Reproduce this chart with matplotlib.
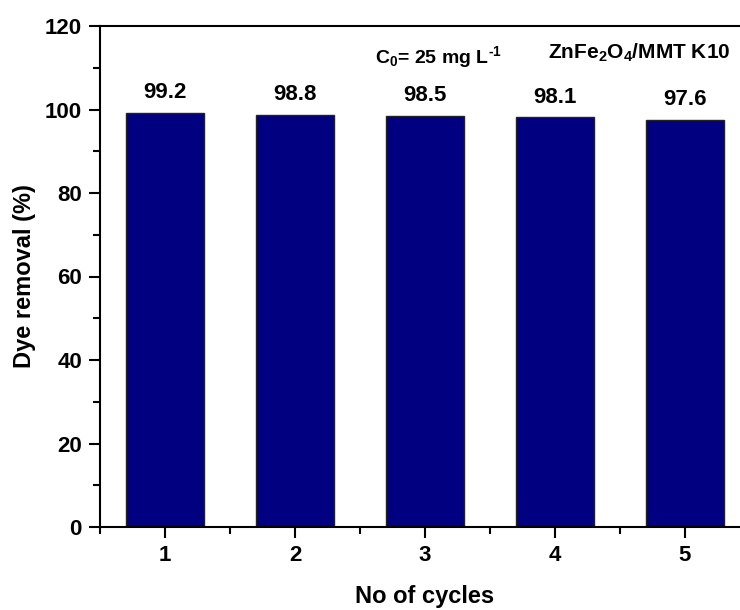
import matplotlib
matplotlib.use("Agg")
import matplotlib.pyplot as plt
from matplotlib.ticker import MultipleLocator

plt.rcParams['font.family'] = 'Liberation Sans'
plt.rcParams['font.weight'] = 'bold'
plt.rcParams['mathtext.fontset'] = 'custom'
plt.rcParams['mathtext.rm'] = 'Liberation Sans:bold'
plt.rcParams['mathtext.bf'] = 'Liberation Sans:bold'
plt.rcParams['mathtext.default'] = 'rm'

# Données
cycles = [1, 2, 3, 4, 5]
removal = [99.2, 98.8, 98.5, 98.1, 97.6]
labels = ["99.2", "98.8", "98.5", "98.1", "97.6"]

fig = plt.figure(figsize=(7.4, 6.1), dpi=100)
# l'axe dépasse à droite comme dans l'original (bord droit coupé)
ax = fig.add_axes([100 / 740, 83 / 610, 650 / 740, 501 / 610])

ax.bar(cycles, removal, width=0.6, color="#000080", edgecolor="#222222", linewidth=1)
for x, y, t in zip(cycles, removal, labels):
    ax.text(x, y + 2.3, t, ha="center", va="bottom", fontsize=16, fontweight="bold")

ax.set_xlim(0.5, 5.5)
ax.set_ylim(0, 120)
ax.xaxis.set_major_locator(MultipleLocator(1))
ax.xaxis.set_minor_locator(MultipleLocator(0.5))
ax.yaxis.set_major_locator(MultipleLocator(20))
ax.yaxis.set_minor_locator(MultipleLocator(10))
ax.tick_params(which="major", direction="out", length=8, width=1.5, labelsize=16, pad=5)
ax.tick_params(which="minor", direction="out", length=5, width=1.5)
for lab in ax.get_xticklabels() + ax.get_yticklabels():
    lab.set_fontweight("bold")
for s in ax.spines.values():
    s.set_linewidth(1.5)

ax.set_xlabel("No of cycles", fontsize=17, fontweight="bold", labelpad=14)
ax.set_ylabel("Dye removal (%)", fontsize=17, fontweight="bold", labelpad=6)

ax.text(3.1, 112.5, "C$_0$= 25 mg L$^{\u2010 1}$", ha="center", va="center", fontsize=14)
ax.text(4.65, 113.5, r"ZnFe$_2$O$_4$/MMT K10", ha="center", va="center", fontsize=15)

fig.savefig("out.png", dpi=100)
